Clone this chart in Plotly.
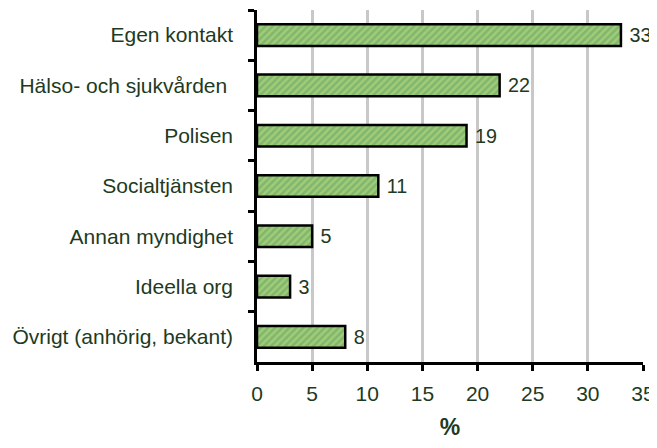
import plotly.graph_objects as go

categories = ["Egen kontakt", "Hälso- och sjukvården ", "Polisen", "Socialtjänsten",
              "Annan myndighet", "Ideella org", "Övrigt (anhörig, bekant)"]
values = [33, 22, 19, 11, 5, 3, 8]
x_ticks = [0, 5, 10, 15, 20, 25, 30, 35]

txt = "#1e3a22"
fam = "Liberation Sans, Arial, sans-serif"

fig = go.Figure(go.Bar(
    y=categories, x=values, orientation="h",
    marker=dict(color="#8cc070", line=dict(color="black", width=2.5),
                pattern=dict(shape="/", fgcolor="#a9d277", bgcolor="#80b670",
                             size=5, solidity=0.5, fgopacity=0.8)),
    width=0.43,
    text=[" " + str(v) for v in values], textposition="outside",
    textfont=dict(color=txt, size=21, family=fam),
    cliponaxis=False,
))

fig.update_layout(
    width=649, height=432,
    margin=dict(l=249, r=14, t=2, b=78, autoexpand=False),
    plot_bgcolor="white", paper_bgcolor="white",
    font=dict(family=fam, size=21, color=txt),
    showlegend=False,
)
fig.update_yaxes(autorange="reversed", showline=True, linecolor="black", linewidth=2.5,
                 ticks="outside", tickson="boundaries", ticklen=6, tickwidth=2.5,
                 tickcolor="black", showgrid=False, ticklabelstandoff=17,
                 automargin=False)
fig.update_xaxes(range=[0, 35], tickvals=x_ticks, showline=True, linecolor="black",
                 linewidth=2.5, ticks="outside", ticklen=6, tickwidth=2.5, tickcolor="black",
                 showgrid=True, gridcolor="#c8c8c8", gridwidth=2.5, zeroline=False,
                 ticklabelstandoff=5, automargin=False,
                 title=dict(text="<b>%</b>", font=dict(size=23, color=txt), standoff=19))

fig.write_html("out.html")
